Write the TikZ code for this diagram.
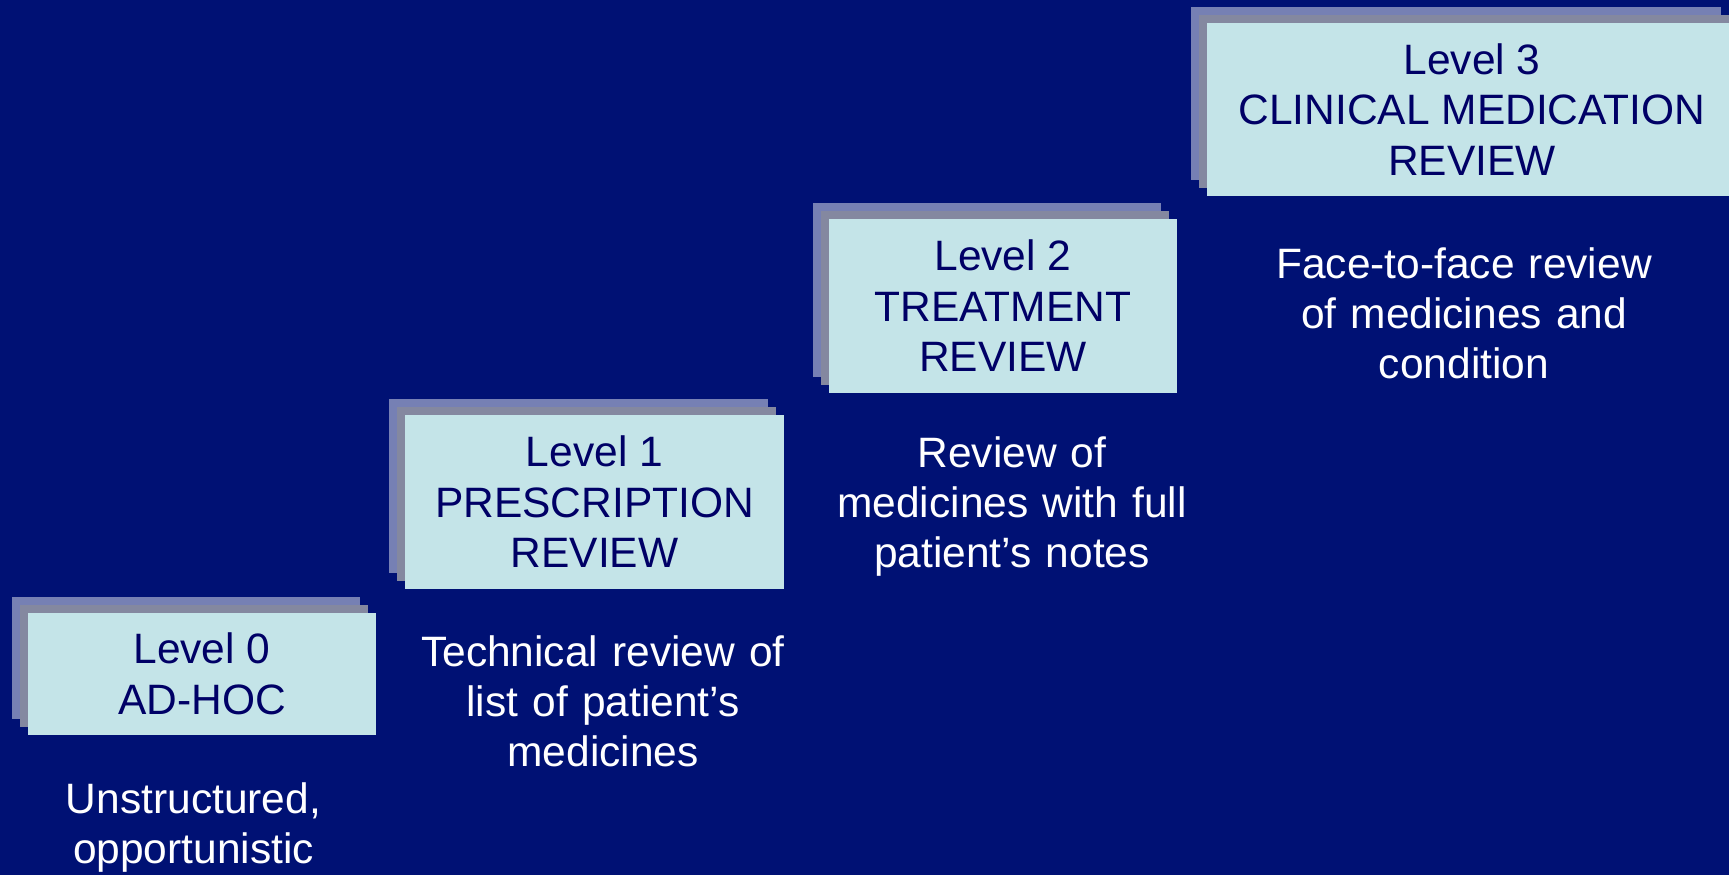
\documentclass[tikz,border=0pt]{standalone}
\usepackage{fontspec}
\setmainfont{Liberation Sans}
\definecolor{bgcol}{RGB}{0,17,116}
\definecolor{boxfill}{RGB}{196,228,232}
\definecolor{boxtext}{RGB}{0,0,102}
\definecolor{shA}{RGB}{118,128,180}
\definecolor{shB}{RGB}{132,136,160}
\pgfdeclarelayer{back}
\pgfdeclarelayer{shadow}
\pgfsetlayers{back,shadow,main}
\begin{document}
\begin{tikzpicture}[x=1pt,y=-1pt,
  lvl/.style={fill=boxfill, text=boxtext, inner sep=0pt, align=center,
    font=\fontsize{42.5}{50.5}\selectfont},
  desc/.style={text=white, inner sep=0pt, text width=520pt, align=center,
    font=\fontsize{42.5}{50.2}\selectfont, anchor=base}]
\begin{pgfonlayer}{back}
\fill[bgcol] (0,0) rectangle (1729,875);
\end{pgfonlayer}
\clip (0,0) rectangle (1729,875);
\node[lvl, minimum width=348pt, minimum height=122pt] (b0) at (202,674) {Level 0\\AD-HOC};
\node[lvl, minimum width=379pt, minimum height=174pt] (b1) at (594.5,502) {Level 1\\PRESCRIPTION\\REVIEW};
\node[lvl, minimum width=348pt, minimum height=174pt] (b2) at (1003,306) {Level 2\\TREATMENT\\REVIEW};
\node[lvl, minimum width=530pt, minimum height=173pt] (b3) at (1472,109.5) {Level 3\\CLINICAL MEDICATION\\REVIEW};
\begin{pgfonlayer}{shadow}
\foreach \n in {b0,b1,b2,b3} {
  \fill[shA] ([shift={(-16,-16)}]\n.north west) rectangle ([shift={(-16,-16)}]\n.south east);
  \fill[shB] ([shift={(-8,-8)}]\n.north west) rectangle ([shift={(-8,-8)}]\n.south east);
}
\end{pgfonlayer}
\node[desc] (d0) at (193.5,813) {Unstructured,\\opportunistic};
\node[desc] (d1) at (603,666) {Technical review of\\list of patient’s\\medicines};
\node[desc] (d2) at (1012,467) {Review of\\medicines with full\\patient’s notes};
\node[desc] (d3) at (1464,278) {Face-to-face review\\of medicines and\\condition};
\end{tikzpicture}
\end{document}
